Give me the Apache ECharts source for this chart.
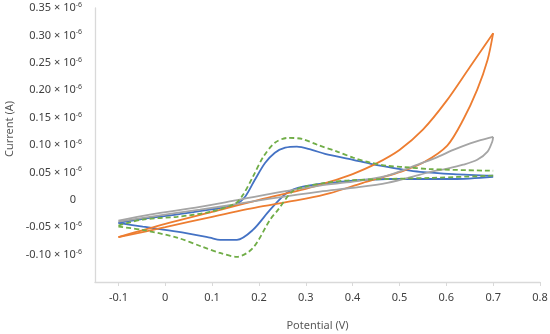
<!DOCTYPE html>
<html>
<head>
<meta charset="utf-8">
<script src="https://cdn.jsdelivr.net/npm/echarts@6/dist/echarts.min.js"></script>
<style>html,body{margin:0;padding:0;background:#fff}#c{width:550px;height:334px}</style>
</head>
<body>
<div id="c"></div>
<script>
// Potential (V) and current (x10^-6 A); each loop split into forward (-0.1 -> 0.7) and reverse (0.7 -> -0.1) scans
const blueFwdV = [-0.10,-0.033,0.031,0.095,0.149,0.170,0.191,0.213,0.234,0.256,0.281,0.313,0.341,0.401,0.437,0.474,0.508,0.544,0.615,0.700];
const blueFwdI = [-0.042,-0.033,-0.026,-0.018,-0.009,0.005,0.036,0.067,0.086,0.095,0.097,0.091,0.084,0.073,0.066,0.060,0.055,0.051,0.047,0.044];
const blueRevV = [0.700,0.615,0.566,0.474,0.401,0.352,0.294,0.260,0.224,0.187,0.153,0.117,0.095,0.025,-0.048,-0.10];
const blueRevI = [0.042,0.038,0.038,0.038,0.035,0.031,0.024,0.013,-0.018,-0.055,-0.073,-0.073,-0.069,-0.058,-0.049,-0.042];

const orangeFwdV = [-0.10,0.0,0.1,0.2,0.3,0.352,0.40,0.45,0.50,0.55,0.60,0.65,0.70];
const orangeFwdI = [-0.068,-0.044,-0.022,0.000,0.020,0.033,0.047,0.066,0.091,0.128,0.180,0.242,0.304];
const orangeRevV = [0.700,0.688,0.666,0.636,0.602,0.551,0.502,0.459,0.422,0.352,0.3,0.2,0.1,0.0,-0.10];
const orangeRevI = [0.304,0.255,0.201,0.146,0.099,0.068,0.051,0.040,0.031,0.012,0.002,-0.013,-0.031,-0.050,-0.068];

const grayFwdV = [-0.10,-0.033,0.074,0.144,0.224,0.330,0.401,0.474,0.544,0.581,0.615,0.651,0.673,0.700];
const grayFwdI = [-0.038,-0.027,-0.013,-0.002,0.011,0.026,0.033,0.044,0.066,0.078,0.091,0.103,0.109,0.115];
const grayRevV = [0.700,0.698,0.688,0.666,0.636,0.602,0.566,0.544,0.474,0.401,0.330,0.224,0.144,0.074,-0.033,-0.10];
const grayRevI = [0.115,0.106,0.088,0.073,0.064,0.057,0.051,0.046,0.031,0.022,0.015,0.002,-0.009,-0.018,-0.031,-0.040];

const greenFwdV = [-0.10,-0.048,0.025,0.095,0.149,0.166,0.187,0.209,0.234,0.262,0.292,0.326,0.367,0.401,0.437,0.474,0.508,0.566,0.700];
const greenFwdI = [-0.047,-0.036,-0.031,-0.022,-0.007,0.009,0.042,0.078,0.104,0.113,0.111,0.100,0.088,0.077,0.068,0.062,0.060,0.056,0.053];
const greenRevV = [0.700,0.566,0.401,0.342,0.298,0.271,0.241,0.224,0.187,0.153,0.117,0.080,0.025,-0.048,-0.10];
const greenRevI = [0.044,0.040,0.036,0.031,0.024,0.015,-0.018,-0.036,-0.088,-0.104,-0.097,-0.086,-0.069,-0.055,-0.049];

const xTicks = [-0.1,0,0.1,0.2,0.3,0.4,0.5,0.6,0.7,0.8];
const yTicks = [-0.10,-0.05,0,0.05,0.10,0.15,0.20,0.25,0.30,0.35];

const zip = (a, b) => a.map((v, i) => [v, b[i]]);
const FONT = 'Noto Sans';

function mk(name, V, I, color, dashed) {
  return {
    name, type: 'line', data: zip(V, I), smooth: 0.3, showSymbol: false, symbol: 'none',
    lineStyle: { color, width: 1.8, type: dashed ? [5, 3] : 'solid' },
    itemStyle: { color }, animation: false
  };
}

const chart = echarts.init(document.getElementById('c'), null, { renderer: 'canvas' });
chart.setOption({
  animation: false,
  grid: { left: 95, right: 10, top: 8, bottom: 52, containLabel: false, outerBoundsMode: 'none' },
  xAxis: {
    type: 'value', min: -0.15, max: 0.8, interval: 0.05,
    name: 'Potential (V)', nameLocation: 'middle', nameGap: 38,
    nameTextStyle: { fontFamily: FONT, fontSize: 11, color: '#595959' },
    axisLine: { show: true, onZero: false, lineStyle: { color: '#d9d9d9', width: 1.3 } },
    axisTick: { show: true, length: 4, customValues: xTicks, lineStyle: { color: '#d9d9d9' } },
    splitLine: { show: false },
    axisLabel: {
      customValues: xTicks, margin: 10, fontFamily: FONT, fontSize: 11, color: '#404040',
      formatter: v => (Math.abs(v) < 1e-9 ? '0' : v.toFixed(1))
    }
  },
  yAxis: {
    type: 'value', min: -0.15, max: 0.35, interval: 0.05,
    name: 'Current (A)', nameLocation: 'middle', nameGap: 77,
    nameTextStyle: { fontFamily: FONT, fontSize: 11, color: '#595959', padding: [0, 0, 0, 32] },
    axisLine: { show: true, onZero: false, lineStyle: { color: '#d9d9d9', width: 1.3 } },
    axisTick: { show: false },
    splitLine: { show: false },
    axisLabel: {
      customValues: yTicks, margin: 13, fontFamily: FONT, fontSize: 11, color: '#404040',
      formatter: v => {
        if (Math.abs(v) < 1e-9) return '{z|0}';
        return '{b|' + v.toFixed(2) + ' × 10}{s|-6}';
      },
      rich: {
        b: { fontFamily: FONT, fontSize: 11, color: '#404040' },
        s: { fontFamily: FONT, fontSize: 7, color: '#404040', padding: [0, 0, 6, 0] },
        z: { fontFamily: FONT, fontSize: 11, color: '#404040', padding: [0, 6, 0, 0] }
      }
    }
  },
  series: [
    mk('Blue forward', blueFwdV, blueFwdI, '#4472C4', false),
    mk('Blue reverse', blueRevV, blueRevI, '#4472C4', false),
    mk('Orange forward', orangeFwdV, orangeFwdI, '#ED7D31', false),
    mk('Orange reverse', orangeRevV, orangeRevI, '#ED7D31', false),
    mk('Gray forward', grayFwdV, grayFwdI, '#A5A5A5', false),
    mk('Gray reverse', grayRevV, grayRevI, '#A5A5A5', false),
    mk('Green forward', greenFwdV, greenFwdI, '#70AD47', true),
    mk('Green reverse', greenRevV, greenRevI, '#70AD47', true)
  ]
});
</script>
</body>
</html>
